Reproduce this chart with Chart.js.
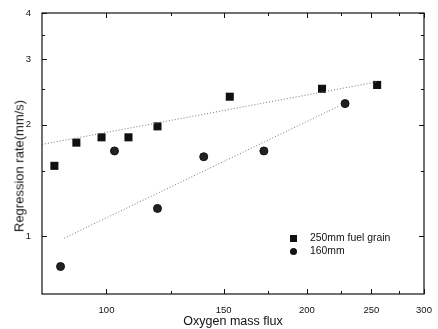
<!DOCTYPE html>
<html>
<head>
<meta charset="utf-8">
<script src="https://cdn.jsdelivr.net/npm/chart.js@4.4.1/dist/chart.umd.min.js"></script>
<style>
  html, body { margin: 0; padding: 0; background: #fff; }
  #wrap { position: relative; width: 438px; height: 329px; font-family: "Liberation Sans", Arial, sans-serif; color: #111; }
  .legend { position: absolute; left: 290px; top: 231px; font-size: 10.4px; }
  .legend div { height: 13px; line-height: 13px; white-space: nowrap; }
  .legend i { display: inline-block; width: 7px; height: 7px; background: #111; margin-right: 13px; vertical-align: -0.5px; }
  .legend i.c { border-radius: 50%; }
  .ytitle { position: absolute; left: 19px; top: 166px; font-size: 13px; white-space: nowrap;
            transform: translate(-50%, -50%) rotate(-90deg); }
</style>
</head>
<body>
<div id="wrap">
  <canvas id="chart" width="438" height="329"></canvas>
  <div class="ytitle">Regression rate(mm/s)</div>
  <div class="legend">
    <div><i></i>250mm fuel grain</div>
    <div><i class="c"></i>160mm</div>
  </div>
</div>
<script>
/* ===== data (log-log) ===== */
const flux250 = [83.5, 90.1, 98.3, 107.9, 119.3, 153.2, 210.8, 255.1];
const rate250 = [1.55, 1.79, 1.85, 1.85, 1.98, 2.38, 2.50, 2.56];
const flux160 = [85.3, 102.8, 119.3, 140.0, 172.4, 228.3];
const rate160 = [0.83, 1.70, 1.19, 1.64, 1.70, 2.28];

// fitted lines (end points)
const fit250X = [80, 255];
const fit250Y = [1.77, 2.61];
const fit160X = [86.4, 224];
const fit160Y = [0.99, 2.25];

const xTicks = [100, 150, 200, 250, 300];
const xMinor = [125, 175, 225, 275];
const yTicks = [1, 2, 3, 4];
const yMinor = [1.5, 2.5, 3.5];

const pts = (xs, ys) => xs.map((x, i) => ({ x, y: ys[i] }));
const fontFam = "'Liberation Sans', Arial, sans-serif";

// box frame + inward ticks on all four sides
const frame = {
  id: "frame",
  afterDraw(chart) {
    const { ctx, chartArea: a, scales: { x, y } } = chart;
    ctx.save();
    ctx.strokeStyle = "#111";
    ctx.lineWidth = 1.2;
    ctx.strokeRect(a.left, a.top, a.right - a.left, a.bottom - a.top);
    ctx.lineWidth = 1;
    ctx.beginPath();
    const xt = (v, len) => {
      const p = Math.round(x.getPixelForValue(v)) + 0.5;
      ctx.moveTo(p, a.bottom); ctx.lineTo(p, a.bottom - len);
      ctx.moveTo(p, a.top); ctx.lineTo(p, a.top + len);
    };
    const yt = (v, len) => {
      const p = Math.round(y.getPixelForValue(v)) + 0.5;
      ctx.moveTo(a.left, p); ctx.lineTo(a.left + len, p);
      ctx.moveTo(a.right, p); ctx.lineTo(a.right - len, p);
    };
    xTicks.forEach(v => xt(v, 5));
    xMinor.forEach(v => xt(v, 3));
    yTicks.forEach(v => yt(v, 5));
    yMinor.forEach(v => yt(v, 3));
    ctx.stroke();
    ctx.restore();
  }
};

const fitStyle = {
  type: "line",
  borderColor: "#777",
  borderWidth: 1,
  borderDash: [1, 2],
  pointRadius: 0,
  fill: false,
};

new Chart(document.getElementById("chart"), {
  type: "scatter",
  data: {
    datasets: [
      { ...fitStyle, label: "fit 250", data: pts(fit250X, fit250Y) },
      { ...fitStyle, label: "fit 160", data: pts(fit160X, fit160Y) },
      {
        label: "250mm fuel grain",
        data: pts(flux250, rate250),
        pointStyle: "rect",
        pointRadius: 5.7,
        backgroundColor: "#111",
        borderColor: "#111",
        borderWidth: 0,
      },
      {
        label: "160mm",
        data: pts(flux160, rate160),
        pointStyle: "circle",
        pointRadius: 4,
        backgroundColor: "#222",
        borderColor: "#111",
        borderWidth: 1,
      },
    ],
  },
  options: {
    responsive: false,
    animation: false,
    layout: { padding: { top: 13, right: 14, left: 0, bottom: 0 } },
    plugins: { legend: { display: false }, tooltip: { enabled: false } },
    scales: {
      x: {
        type: "logarithmic",
        min: 80,
        max: 300,
        afterBuildTicks: s => { s.ticks = xTicks.map(v => ({ value: v })); },
        afterFit: s => { s.height = 35; },
        grid: { display: false },
        border: { display: false },
        ticks: {
          autoSkip: false, maxRotation: 0, padding: 3,
          color: "#111", font: { family: fontFam, size: 9.5 },
          callback: v => String(v),
        },
        title: {
          display: true, text: "Oxygen mass flux", color: "#111",
          font: { family: fontFam, size: 12.5 }, padding: { top: 0, bottom: 0 },
        },
      },
      y: {
        type: "logarithmic",
        min: 0.7,
        max: 4,
        afterBuildTicks: s => { s.ticks = yTicks.map(v => ({ value: v })); },
        afterFit: s => { s.width = 42; },
        grid: { display: false },
        border: { display: false },
        ticks: {
          autoSkip: false, padding: 3,
          color: "#111", font: { family: fontFam, size: 9.5 },
          callback: v => String(v),
        },
      },
    },
  },
  plugins: [frame],
});
</script>
</body>
</html>
